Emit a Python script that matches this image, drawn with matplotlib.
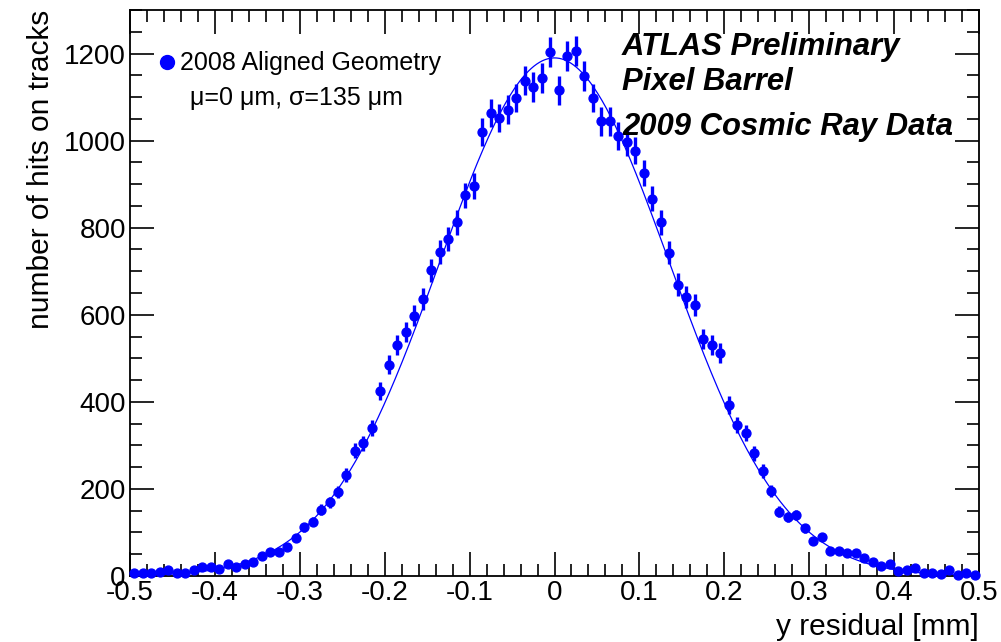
import numpy as np
import matplotlib
matplotlib.use('Agg')
from matplotlib import pyplot as plt
from matplotlib.ticker import MultipleLocator

# y residuals, pixel barrel, 100 bins from -0.5 to 0.5 mm
x_lo, x_hi, n_bins = -0.5, 0.5, 100
counts = [6, 6, 6, 10, 14, 8, 8, 14, 20, 20,
          15, 28, 20, 27, 33, 46, 54, 54, 67, 88,
          112, 125, 152, 169, 193, 232, 288, 305, 340, 425,
          485, 530, 560, 598, 636, 702, 744, 774, 812, 874,
          895, 1019, 1064, 1052, 1071, 1098, 1138, 1123, 1144, 1203,
          1116, 1195, 1205, 1149, 1098, 1044, 1044, 1010, 996, 977,
          926, 867, 812, 743, 669, 640, 623, 544, 531, 513,
          393, 347, 328, 282, 241, 196, 148, 136, 140, 110,
          81, 89, 58, 57, 52, 53, 41, 33, 23, 28,
          12, 14, 18, 6, 6, 5, 14, 2, 8, 2]

# gaussian fit: constant, mean [mm], sigma [mm]
fit_const = 1190.0
fit_mean = 0.0
fit_sigma = 0.135

legend_label = '2008 Aligned Geometry'
fit_label = '\u03bc=0 \u03bcm, \u03c3=135 \u03bcm'
atlas_lines = ['ATLAS Preliminary', 'Pixel Barrel', '2009 Cosmic Ray Data']

plt.rcParams['font.family'] = ['Liberation Sans', 'DejaVu Sans']

edges = np.linspace(x_lo, x_hi, n_bins + 1)
centres = 0.5 * (edges[:-1] + edges[1:])
y = np.array(counts, dtype=float)
err = np.sqrt(y)

fig = plt.figure(figsize=(10.01, 6.42), dpi=100)
ax = fig.add_axes([130 / 1001, 1 - 576 / 642, 849 / 1001, 566 / 642])

xf = np.linspace(x_lo, x_hi, 600)
ax.plot(xf, fit_const * np.exp(-0.5 * ((xf - fit_mean) / fit_sigma) ** 2),
        color='#0000ff', lw=0.9, zorder=2)
ax.errorbar(centres, y, yerr=err, fmt='o', color='#0000ff', ms=6.4,
            elinewidth=2.4, capsize=0, zorder=3, clip_on=False)

ax.set_xlim(x_lo, x_hi)
ax.set_ylim(0, 1300)
ax.xaxis.set_minor_locator(MultipleLocator(0.02))
ax.yaxis.set_major_locator(MultipleLocator(200))
ax.yaxis.set_minor_locator(MultipleLocator(50))
ax.set_xticks(np.round(np.arange(-0.5, 0.51, 0.1), 1))
ax.set_xticklabels(['-0.5', '-0.4', '-0.3', '-0.2', '-0.1', '0',
                    '0.1', '0.2', '0.3', '0.4', '0.5'])
ax.tick_params(which='both', direction='in', top=True, right=True,
               labelsize=20, width=1.2)
ax.tick_params(which='major', length=17, pad=3)
ax.tick_params(which='minor', length=8.5)
ax.tick_params(axis='y', pad=3)
for s in ax.spines.values():
    s.set_linewidth(1.3)

ax.set_xlabel('y residual [mm]', fontsize=21.5, loc='right', labelpad=5)
ax.set_ylabel('number of hits on tracks', fontsize=21.5, loc='top', labelpad=6)

# legend
ax.plot([0.0436], [0.908], 'o', color='#0000ff', ms=10, transform=ax.transAxes,
        clip_on=False)
ax.text(0.0589, 0.906, legend_label, transform=ax.transAxes, fontsize=18,
        va='center', ha='left')
ax.text(0.0707, 0.845, fit_label, transform=ax.transAxes, fontsize=18,
        va='center', ha='left')

for ty, line in zip([0.935, 0.872, 0.794], atlas_lines):
    ax.text(0.5795, ty, line, transform=ax.transAxes, fontsize=22.3,
            fontweight='bold', fontstyle='italic', va='center', ha='left')

fig.savefig('out.png', dpi=100)
